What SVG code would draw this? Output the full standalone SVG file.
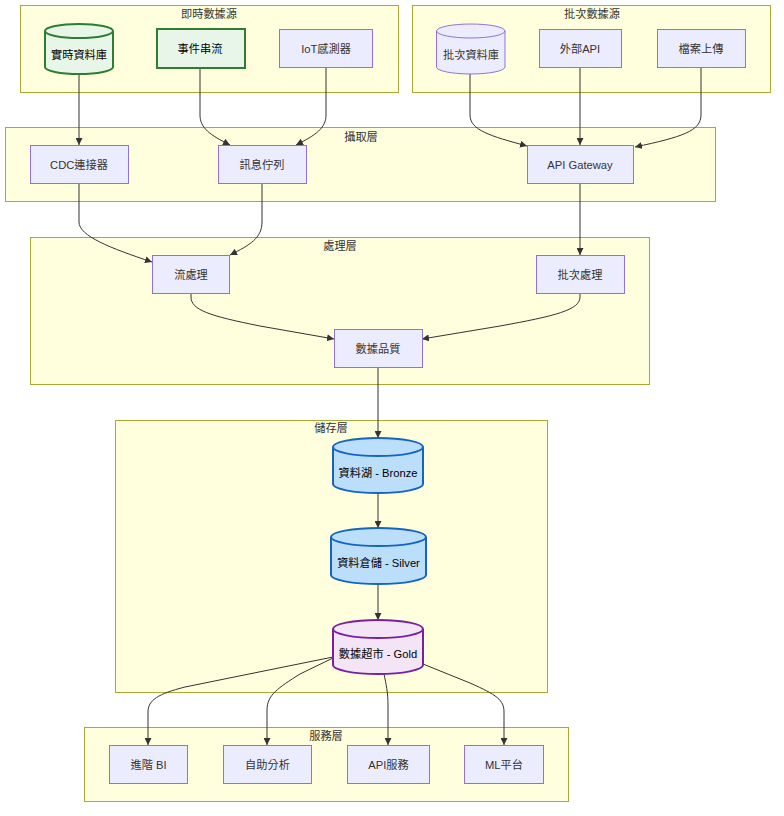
<svg xmlns="http://www.w3.org/2000/svg" width="784" height="816" viewBox="0 0 784 816">
<defs>
<style>
.cl{fill:#ffffde;stroke:#aaaa33;stroke-width:1}
.n{fill:#ececff;stroke:#9370db;stroke-width:1}
.g{fill:#e8f5e9;stroke:#2e7d32;stroke-width:2}
.b{fill:#bbdefb;stroke:#1565c0;stroke-width:2}
.p{fill:#f3e5f5;stroke:#7b1fa2;stroke-width:2}
text{font-family:"Liberation Sans","Noto Sans CJK TC",sans-serif;font-size:11.2px;fill:#333;text-anchor:middle}
.t{dominant-baseline:central}
.k{fill:#000}
.e{fill:none;stroke:#333;stroke-width:1;marker-end:url(#ah)}
</style>
<marker id="ah" viewBox="0 0 10 10" refX="10" refY="5" markerWidth="7" markerHeight="7" markerUnits="userSpaceOnUse" orient="auto">
<path d="M0,0 L10,5 L0,10 z" fill="#333"/>
</marker>
</defs>
<rect width="784" height="816" fill="#fff"/>

<g id="clusters">
<g id="c-realtime"><rect class="cl" x="20.5" y="5.5" width="378" height="87"/><text x="209" y="18">即時數據源</text></g>
<g id="c-batch"><rect class="cl" x="412.5" y="5.5" width="358" height="87"/><text x="592" y="18">批次數據源</text></g>
<g id="c-ingest"><rect class="cl" x="5.5" y="127.5" width="710" height="74"/><text x="361" y="141">攝取層</text></g>
<g id="c-process"><rect class="cl" x="30.5" y="237.5" width="619" height="147"/><text x="340" y="250">處理層</text></g>
<g id="c-storage"><rect class="cl" x="115.5" y="420.5" width="432" height="272"/><text x="331" y="432">儲存層</text></g>
<g id="c-serve"><rect class="cl" x="84.5" y="727.5" width="484" height="74"/><text x="326" y="740">服務層</text></g>
</g>

<g id="edges">
<path class="e" d="M79,74 L79,145"/>
<path class="e" d="M200,68 L200,115 C200,128 210,135 230,145"/>
<path class="e" d="M326,68 L326,115 C326,128 316,135 296,145"/>
<path class="e" d="M470,74 L470,115 C470,130 490,136 527,146"/>
<path class="e" d="M580,68 L580,145"/>
<path class="e" d="M701,68 L701,115 C701,131 682,137 635,147"/>
<path class="e" d="M79,183 L79,222 C79,236 110,248 152,262"/>
<path class="e" d="M262,183 L262,222 C262,238 250,245 230,255"/>
<path class="e" d="M580,183 L580,255"/>
<path class="e" d="M191,293 L191,297 C191,310 210,316 260,326 L334,339"/>
<path class="e" d="M580,293 L580,297 C580,310 555,316 500,326 L422,339"/>
<path class="e" d="M378,367 L378,438"/>
<path class="e" d="M378,493 L378,528"/>
<path class="e" d="M378,584 L378,620"/>
<path class="e" d="M333,657 L185,687 C158,694 148,700 148,712 L148,745"/>
<path class="e" d="M333,658 L300,674 C278,688 267,695 267,710 L267,745"/>
<path class="e" d="M384,674 C386,684 388,692 388,705 L388,745"/>
<path class="e" d="M423,664 L470,683 C497,695 504,700 504,712 L504,745"/>
</g>

<g id="n-rtdb"><path class="g" d="M45,31 a34,7 0 0 0 68,0 a34,7 0 0 0 -68,0 l0,36 a34,7 0 0 0 68,0 l0,-36"/><text class="t k" x="79" y="55">實時資料庫</text></g>
<g id="n-stream"><rect class="g" x="157" y="29" width="88" height="39"/><text class="t k" x="200" y="48.5">事件串流</text></g>
<g id="n-iot"><rect class="n" x="279.5" y="29.5" width="93" height="38"/><text class="t" x="326" y="48.5">IoT感測器</text></g>

<g id="n-batchdb"><path class="n" d="M436.5,31 a34.25,7 0 0 0 68.5,0 a34.25,7 0 0 0 -68.5,0 l0,36 a34.25,7 0 0 0 68.5,0 l0,-36"/><text class="t" x="471" y="55">批次資料庫</text></g>
<g id="n-extapi"><rect class="n" x="539.5" y="29.5" width="82" height="38"/><text class="t" x="580" y="48.5">外部API</text></g>
<g id="n-upload"><rect class="n" x="657.5" y="29.5" width="88" height="38"/><text class="t" x="701" y="48.5">檔案上傳</text></g>

<g id="n-cdc"><rect class="n" x="30.5" y="145.5" width="98" height="38"/><text class="t" x="79" y="164.5">CDC連接器</text></g>
<g id="n-mq"><rect class="n" x="218.5" y="145.5" width="88" height="38"/><text class="t" x="262" y="164.5">訊息佇列</text></g>
<g id="n-gw"><rect class="n" x="527.5" y="145.5" width="106" height="38"/><text class="t" x="580" y="164.5">API Gateway</text></g>

<g id="n-sp"><rect class="n" x="152.5" y="255.5" width="77" height="38"/><text class="t" x="191" y="274.5">流處理</text></g>
<g id="n-bp"><rect class="n" x="536.5" y="255.5" width="88" height="38"/><text class="t" x="580" y="274.5">批次處理</text></g>
<g id="n-dq"><rect class="n" x="334.5" y="329.5" width="88" height="38"/><text class="t" x="378" y="348.5">數據品質</text></g>

<g id="n-bronze"><path class="b" d="M333,447 a45,9 0 0 0 90,0 a45,9 0 0 0 -90,0 l0,37 a45,9 0 0 0 90,0 l0,-37"/><text class="t k" x="378" y="473">資料湖 - Bronze</text></g>
<g id="n-silver"><path class="b" d="M331,537 a47.5,9 0 0 0 95,0 a47.5,9 0 0 0 -95,0 l0,38 a47.5,9 0 0 0 95,0 l0,-38"/><text class="t k" x="378.5" y="563">資料倉儲 - Silver</text></g>
<g id="n-gold"><path class="p" d="M333,629 a45,9 0 0 0 90,0 a45,9 0 0 0 -90,0 l0,36 a45,9 0 0 0 90,0 l0,-36"/><text class="t k" x="378" y="654">數據超市 - Gold</text></g>

<g id="n-bi"><rect class="n" x="109.5" y="745.5" width="78" height="38"/><text class="t" x="148.5" y="764.5">進階 BI</text></g>
<g id="n-self"><rect class="n" x="223.5" y="745.5" width="88" height="38"/><text class="t" x="267.5" y="764.5">自助分析</text></g>
<g id="n-apisvc"><rect class="n" x="347.5" y="745.5" width="82" height="38"/><text class="t" x="388.5" y="764.5">API服務</text></g>
<g id="n-ml"><rect class="n" x="464.5" y="745.5" width="79" height="38"/><text class="t" x="504" y="764.5">ML平台</text></g>
</svg>
